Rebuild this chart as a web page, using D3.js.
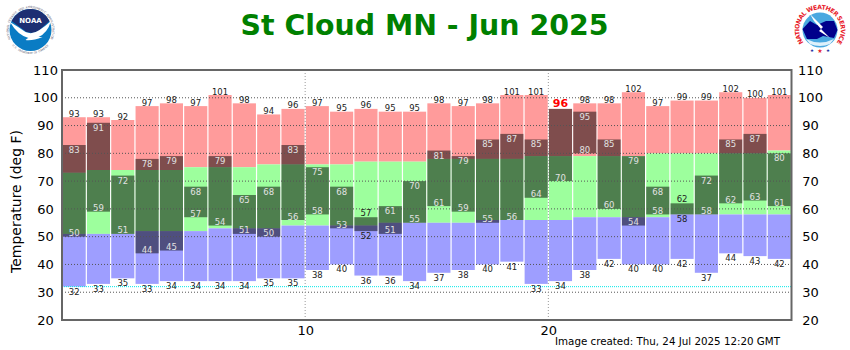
<!DOCTYPE html>
<html>
<head>
<meta charset="utf-8">
<script src="https://cdn.jsdelivr.net/npm/d3@7"></script>
<style>
  html, body { margin: 0; padding: 0; background: #fff; }
  svg { display: block; }
  text { font-family: "DejaVu Sans", sans-serif; }
</style>
</head>
<body>
<div id="chart"></div>
<script>
const recordHigh = [93,93,92,97,98,97,101,98,94,96,97,95,96,95,95,98,97,98,101,101,96,98,98,102,97,99,99,102,100,101];
const normalHigh = [73,74,74,74,74,75,75,75,76,76,76,76,77,77,77,78,78,78,78,79,79,79,79,79,80,80,80,80,80,81];
const normalLow  = [51,51,51,52,52,52,53,53,53,54,54,54,54,55,55,55,55,56,56,56,56,57,57,57,57,58,58,58,58,58];
const recordLow  = [32,33,35,33,34,34,34,34,35,35,38,40,36,36,34,37,38,40,41,33,34,38,42,40,40,42,37,44,43,42];
const obsHigh    = [83,91,72,78,79,68,79,65,68,83,75,68,57,61,70,81,79,85,87,85,96,95,85,79,68,62,72,85,87,80];
const obsLow     = [50,59,51,44,45,57,54,51,50,56,58,53,52,51,55,61,59,55,56,64,70,80,60,54,58,58,58,62,63,61];
const days       = d3.range(1, 31);
const yTicks     = [20,30,40,50,60,70,80,90,100,110];
const xTicks     = [10,20];
const freezing   = 32;

const width  = 850;
const height = 350;
const plot   = { left: 62, right: 791.5, top: 70, bottom: 320 };

const svg = d3.select('#chart').append('svg')
  .attr('width', width)
  .attr('height', height);

const x = d3.scaleLinear().domain([0, 30]).range([plot.left, plot.right]);
const y = d3.scaleLinear().domain([20, 110]).range([plot.bottom, plot.top]);

const barX = d => x(d - 1) + 0.6;
const barW = x(1) - x(0) - 1.2;

// background bands: record high / normal range / record low
function band(top, bottom, fill) {
  svg.append('g').selectAll('rect')
    .data(days)
    .enter()
    .append('rect')
    .attr('x', barX)
    .attr('width', barW)
    .attr('y', d => y(top[d - 1]))
    .attr('height', d => y(bottom[d - 1]) - y(top[d - 1]))
    .attr('fill', fill);
}
band(recordHigh, normalHigh, '#ff9b9b');
band(normalHigh, normalLow, '#9dff9d');
band(normalLow, recordLow, '#9e9eff');

// observed range sits on top and darkens whatever is under it
band(obsHigh, obsLow, 'rgba(0,0,0,0.5)');

// grid lines
const grid = svg.append('g');
grid.selectAll('line.h')
  .data(yTicks.filter(d => d > 20 && d < 110))
  .enter()
  .append('line')
  .attr('x1', plot.left).attr('x2', plot.right)
  .attr('y1', d => y(d)).attr('y2', d => y(d))
  .attr('stroke', '#555')
  .attr('stroke-dasharray', '1,2');
grid.selectAll('line.v')
  .data(xTicks)
  .enter()
  .append('line')
  .attr('x1', d => x(d)).attr('x2', d => x(d))
  .attr('y1', plot.top).attr('y2', plot.bottom)
  .attr('stroke', '#999')
  .attr('stroke-dasharray', '1,2');

// freezing line
svg.append('line')
  .attr('x1', plot.left).attr('x2', plot.right)
  .attr('y1', y(freezing)).attr('y2', y(freezing))
  .attr('stroke', '#00e8e8')
  .attr('stroke-dasharray', '1,1');

// frame
svg.append('rect')
  .attr('x', plot.left).attr('y', plot.top)
  .attr('width', plot.right - plot.left)
  .attr('height', plot.bottom - plot.top)
  .attr('fill', 'none')
  .attr('stroke', '#666')
  .attr('stroke-width', 2);

// axes, labels are centred in their gutter like the original
function styleAxis(g) {
  g.select('.domain').remove();
  g.selectAll('text')
    .attr('x', 0)
    .attr('text-anchor', 'middle')
    .style('font-size', '13px')
    .style('font-family', '"DejaVu Sans", sans-serif')
    .attr('fill', '#000');
}
svg.append('g')
  .attr('transform', 'translate(45.5,0)')
  .call(d3.axisLeft(y).tickValues(yTicks).tickSize(0))
  .call(styleAxis);
svg.append('g')
  .attr('transform', 'translate(810.5,0)')
  .call(d3.axisRight(y).tickValues(yTicks).tickSize(0))
  .call(styleAxis);
svg.append('g')
  .attr('transform', 'translate(0,323)')
  .call(d3.axisBottom(x).tickValues(xTicks).tickSize(0))
  .call(g => {
    g.select('.domain').remove();
    g.selectAll('text')
      .style('font-size', '13px')
      .style('font-family', '"DejaVu Sans", sans-serif')
      .attr('fill', '#000');
  });

// value labels
const labels = svg.append('g')
  .attr('text-anchor', 'middle')
  .attr('font-size', 8.5);

function addLabels(values, baseline, color) {
  labels.append('g').selectAll('text')
    .data(days)
    .enter()
    .append('text')
    .attr('x', d => barX(d) + barW / 2)
    .attr('y', d => y(values[d - 1]) + baseline(d - 1))
    .attr('fill', d => color(d - 1))
    .text(d => values[d - 1]);
}
const isNarrow = i => obsHigh[i] - obsLow[i] < 8;
const isRecord = i => obsHigh[i] >= recordHigh[i];

addLabels(recordHigh.map((v, i) => isRecord(i) ? null : v), () => -0.5, () => '#222');
addLabels(recordLow, () => 8, () => '#222');
addLabels(obsHigh.map((v, i) => isRecord(i) ? null : v), i => isNarrow(i) ? -1 : 8, i => isNarrow(i) ? '#222' : '#e2e2e2');
addLabels(obsLow, i => isNarrow(i) ? 8 : -0.5, i => isNarrow(i) ? '#222' : '#e2e2e2');

// a broken record gets a red label above the bar
labels.append('g').selectAll('text')
  .data(days.filter(d => isRecord(d - 1)))
  .enter()
  .append('text')
  .attr('x', d => barX(d) + barW / 2)
  .attr('y', d => y(obsHigh[d - 1]) - 2)
  .attr('fill', '#f00')
  .attr('font-size', 11)
  .attr('font-weight', 'bold')
  .text(d => obsHigh[d - 1]);

// titles
svg.append('text')
  .attr('x', 424.5).attr('y', 35)
  .attr('text-anchor', 'middle')
  .attr('font-size', 28.4)
  .attr('font-weight', 'bold')
  .attr('fill', '#008000')
  .text('St Cloud MN - Jun 2025');

svg.append('text')
  .attr('transform', 'translate(21,201.5) rotate(-90)')
  .attr('text-anchor', 'middle')
  .attr('font-size', 14)
  .attr('fill', '#000')
  .text('Temperature (deg F)');

svg.append('text')
  .attr('x', 555).attr('y', 345)
  .attr('font-size', 10.3)
  .attr('fill', '#000')
  .text('Image created: Thu, 24 Jul 2025 12:20 GMT');

// NOAA logo
const noaa = svg.append('g').attr('transform', 'translate(30.5,30)');

// ring text goes letter by letter, a single arc would box in the NOAA word
function ringLetters(str, radius, from, to, size, flip) {
  const a = d3.scaleLinear().domain([0, str.length - 1]).range([from, to]);
  noaa.append('g').selectAll('text')
    .data(str.split(''))
    .enter()
    .append('text')
    .attr('transform', (c, i) => `rotate(${a(i)}) translate(0,${flip ? radius : -radius})`)
    .attr('text-anchor', 'middle')
    .attr('font-size', size)
    .attr('fill', '#667')
    .text(c => c);
}
ringLetters('NATIONAL OCEANIC AND ATMOSPHERIC ADMINISTRATION', 21.8, -112, 112, 3);
ringLetters('U.S. DEPARTMENT OF COMMERCE', 24, 48, -48, 2.7, true);

noaa.append('circle').attr('r', 21).attr('fill', '#0a7cc4');
noaa.append('path')
  .attr('d', 'M -19,-9 A 21,21 0 0 1 19,-9 L 8,1 L 2,3 L -4,2 Z')
  .attr('fill', '#1d2f73');
noaa.append('path')
  .attr('d', 'M -20.5,-8 Q -12,-3 -5,2 Q 2,5 9,0 Q 15,-4 20.5,-9 Q 17,3 8,7 L 12,7 Q 2,11 -5,10 Q -3,8 -2,8 Q -13,5 -20.5,-8 Z')
  .attr('fill', '#fff');
noaa.append('text')
  .attr('y', -7).attr('text-anchor', 'middle')
  .attr('font-size', 7).attr('font-weight', 'bold').attr('fill', '#fff')
  .text('NOAA');

// NWS logo
const nws = svg.append('g').attr('transform', 'translate(820,30)');
nws.append('path').attr('id', 'nwsRing')
  .attr('d', 'M -12,17 A 20.8,20.8 0 1 1 12,17').attr('fill', 'none');
nws.append('text')
  .attr('font-size', 6.2).attr('font-weight', 'bold').attr('fill', '#e8202a')
  .append('textPath').attr('href', '#nwsRing').attr('startOffset', '50%').attr('text-anchor', 'middle')
  .attr('textLength', 92)
  .text('NATIONAL WEATHER SERVICE');
nws.append('circle').attr('r', 17.5).attr('fill', '#4aa8e0');
nws.append('path')
  .attr('d', 'M -17.5,-1 L -10,-9 L -3,-5 L 6,-9 L 14,-9 L 17.5,0 L 14,8 L 3,6 L -3,9 L -13,9 Z')
  .attr('fill', '#00008b');
nws.append('path')
  .attr('d', 'M -10,-16 L 3,-3 L 1,-1 L 10,8 L -1,1 L 1,-1 L -6,-9 Z')
  .attr('fill', '#fff');
nws.append('path')
  .attr('d', 'M -14,9 Q 0,16 14,9 L 10,14 Q 0,18 -10,14 Z')
  .attr('fill', '#dff1fb');
nws.selectAll('text.star')
  .data([-8, 0, 8])
  .enter()
  .append('text')
  .attr('x', d => d)
  .attr('y', d => d === 0 ? 23 : 22)
  .attr('text-anchor', 'middle')
  .attr('font-size', d => d === 0 ? 6 : 4.5)
  .attr('fill', d => d === 0 ? '#e8202a' : '#1d2f9f')
  .text('★');
</script>
</body>
</html>
